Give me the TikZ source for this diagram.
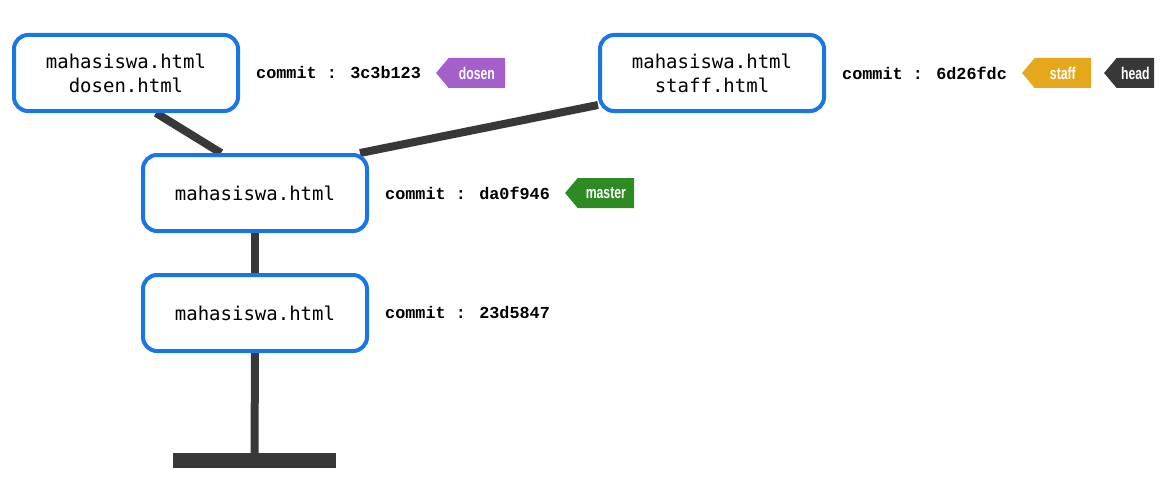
\documentclass[tikz,border=0pt]{standalone}
\usepackage{tikz}
\usepackage{xcolor}
\usepackage{fontspec}
\usetikzlibrary{positioning,shapes.symbols,backgrounds}
\setmonofont{DejaVu Sans Mono}
\newfontfamily\commitfont{Liberation Mono}
\newfontfamily\tagfont[FakeStretch=0.72]{Liberation Sans}
\definecolor{gdarkgray}{HTML}{383838}
\definecolor{gblue}{HTML}{1a75e6}
\definecolor{gpurple}{HTML}{a55fca}
\definecolor{ggreen}{HTML}{2e8a22}
\definecolor{gorange}{HTML}{e5a81b}
\tikzset{
	filebox/.style={draw=gblue, line width=4, rounded corners=14, fill=white,
		minimum width=224, minimum height=76, align=center,
		font=\ttfamily\fontsize{19}{24}\selectfont},
	commitlabel/.style={inner sep=0, font=\commitfont\bfseries\fontsize{16.8}{20}\selectfont},
	branchtag/.style={signal, signal to=west, signal pointer angle=100, outer sep=0,
		inner sep=0, minimum width=69, minimum height=30, text=white,
		font=\tagfont\bfseries\fontsize{17}{20}\selectfont},
	branchline/.style={color=gdarkgray, line width=8}
}

\begin{document}
\begin{tikzpicture}[x=1pt, y=-1pt]
		\useasboundingbox (0,0) rectangle (1173,495);
		% commits
		\node[filebox] (c1) at (255,313) {mahasiswa.html};
		\node[filebox] (c2) at (255,193) {mahasiswa.html};
		\node[filebox] (c3) at (126,73) {mahasiswa.html\\dosen.html};
		\node[filebox] (c4) at (712,73) {mahasiswa.html\\staff.html};
		\node[fill=gdarkgray, inner sep=0, minimum width=163, minimum height=15] (ground) at (254.5,460.5) {};
		% history lines
		\begin{scope}[on background layer]
			\draw[branchline] (c1.south) -- (ground.north);
			\draw[branchline] (c2.south) -- (c1.north);
			\draw[branchline] ([xshift=-34]c2.north) -- ([xshift=30]c3.south);
			\draw[branchline] ([xshift=105]c2.north) -- ([yshift=-32]c4.west);
		\end{scope}
		% commit ids
		\node[commitlabel, right=16 of c1] (id1) {commit : 23d5847};
		\node[commitlabel, right=16 of c2] (id2) {commit : da0f946};
		\node[commitlabel, right=16 of c3] (id3) {commit : 3c3b123};
		\node[commitlabel, right=16 of c4] (id4) {commit : 6d26fdc};
		% branch tags
		\node[branchtag, fill=ggreen, right=15 of id2] (master) {master};
		\node[branchtag, fill=gpurple, right=15 of id3] (dosen) {dosen};
		\node[branchtag, fill=gorange, right=15 of id4] (staff) {staff};
		\node[branchtag, fill=gdarkgray, minimum width=50, right=13 of staff] (head) {head};
	\end{tikzpicture}
\end{document}
